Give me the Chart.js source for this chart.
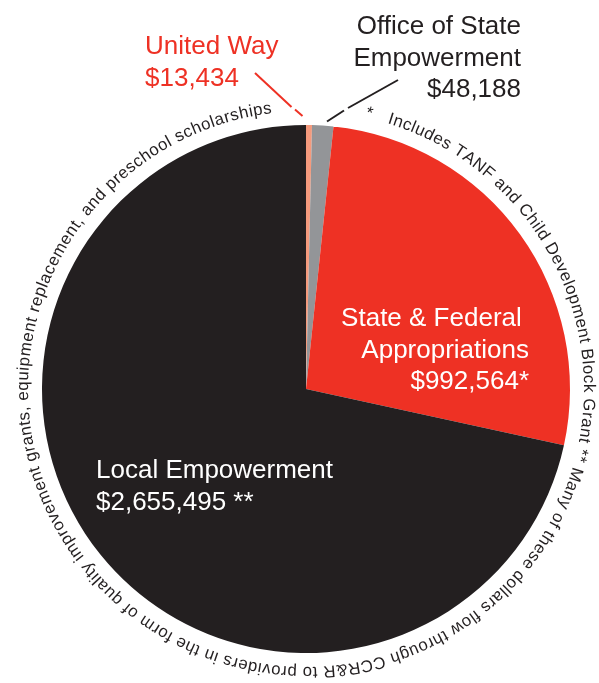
<!DOCTYPE html>
<html>
<head>
<meta charset="utf-8">
<script src="https://cdn.jsdelivr.net/npm/chart.js@4.4.0/dist/chart.umd.min.js"></script>
<style>
  html, body { margin: 0; padding: 0; background: #ffffff; }
  #wrap { width: 599px; height: 683px; }
</style>
</head>
<body>
<div id="wrap"><canvas id="myChart" width="599" height="683"></canvas></div>
<script>
const categories = ["United Way", "Office of State Empowerment", "State & Federal Appropriations", "Local Empowerment"];
const amounts = [13434, 48188, 992564, 2655495];
const sliceColors = ["#f59a7d", "#939598", "#ee3124", "#231f20"];

// label text per slice (last line is the amount)
const labelNames = [["United Way"], ["Office of State", "Empowerment"], ["State & Federal ", "Appropriations"], ["Local Empowerment"]];
const amountMarks = ["", "", "*", " **"];

const footnote = "*   Includes TANF and Child Development Block Grant ** Many of these dollars flow through CCR&R to providers in the form of quality improvement grants, equipment replacement, and preschool scholarships";

const FONT = "'Liberation Sans', Arial, Helvetica, sans-serif";
const DARK = "#231f20";

function money(v) {
  return "$" + v.toLocaleString("en-US");
}

// where each label block sits: x, first baseline, alignment, colour
const labelPos = [
  { x: 145, y: 54, align: "left", color: "#ee3124" },
  { x: 521, y: 34, align: "right", color: DARK },
  { x: 529, y: 326, align: "right", color: "#ffffff" },
  { x: 96, y: 478, align: "left", color: "#ffffff" },
];

function drawArcText(ctx, text, cx, cy, r, startDeg, endDeg, size) {
  ctx.font = size + "px " + FONT;
  let total = 0;
  for (const ch of text) total += ctx.measureText(ch).width;
  const arcLen = (endDeg - startDeg) * Math.PI / 180 * r;
  const gap = (arcLen - total) / (text.length - 1);
  let a = startDeg * Math.PI / 180;
  ctx.textAlign = "center";
  ctx.textBaseline = "alphabetic";
  for (const ch of text) {
    const w = ctx.measureText(ch).width;
    const mid = a + (w / 2) / r;
    ctx.save();
    ctx.translate(cx + r * Math.sin(mid), cy - r * Math.cos(mid));
    ctx.rotate(mid);
    ctx.fillText(ch, 0, 0);
    ctx.restore();
    a += (w + gap) / r;
  }
}

function segment(ctx, x1, y1, x2, y2) {
  ctx.beginPath();
  ctx.moveTo(x1, y1);
  ctx.lineTo(x2, y2);
  ctx.stroke();
}

const annotations = {
  id: "annotations",
  afterDraw(chart) {
    const ctx = chart.ctx;
    const arc = chart.getDatasetMeta(0).data[0];
    const cx = arc.x, cy = arc.y, R = arc.outerRadius;

    ctx.save();
    // slice labels
    ctx.textBaseline = "alphabetic";
    ctx.font = "26px " + FONT;
    labelPos.forEach((p, i) => {
      const lines = labelNames[i].concat([money(amounts[i]) + amountMarks[i]]);
      ctx.fillStyle = p.color;
      ctx.textAlign = p.align;
      lines.forEach((t, k) => ctx.fillText(t, p.x, p.y + k * 31.5));
    });

    // leader lines, broken where the footnote ring passes
    ctx.lineWidth = 2;
    ctx.strokeStyle = "#ee3124";
    segment(ctx, cx - 51, cy - R - 52, cx - 14.5, cy - R - 18);
    segment(ctx, cx - 11, cy - R - 15.5, cx - 3.5, cy - R - 9);
    ctx.strokeStyle = DARK;
    segment(ctx, cx + 92, cy - R - 45, cx + 42, cy - R - 17);
    segment(ctx, cx + 38, cy - R - 14.5, cx + 21, cy - R - 3.5);

    // footnote ring
    ctx.fillStyle = DARK;
    drawArcText(ctx, footnote, cx, cy, R + 14, 12.3, 353, 16.8);
    ctx.restore();
  }
};

new Chart(document.getElementById("myChart"), {
  type: "pie",
  data: {
    labels: categories,
    datasets: [{
      data: amounts,
      backgroundColor: sliceColors,
      borderWidth: 0,
    }],
  },
  options: {
    responsive: false,
    animation: false,
    rotation: 0,
    layout: { padding: { left: 42, right: 29, top: 125, bottom: 30 } },
    plugins: {
      legend: { display: false },
      tooltip: { enabled: false },
    },
  },
  plugins: [annotations],
});
</script>
</body>
</html>
